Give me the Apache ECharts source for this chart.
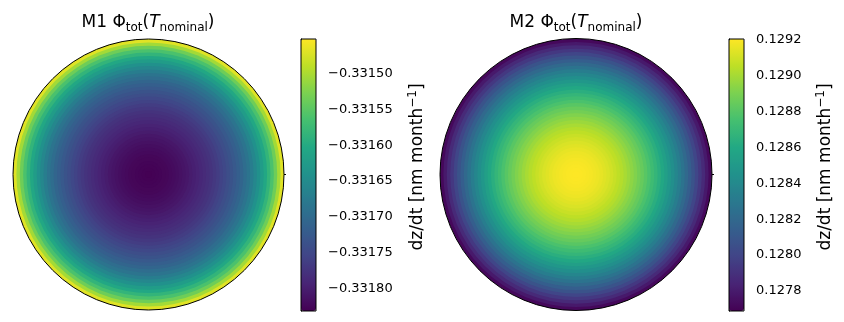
<!DOCTYPE html>
<html>
<head>
<meta charset="utf-8">
<script src="https://cdn.jsdelivr.net/npm/echarts@6/dist/echarts.min.js"></script>
<style>
  html, body { margin: 0; background: #fff; }
  #chart { width: 844px; height: 322px; }
</style>
</head>
<body>
<div id="chart"></div>
<script>
// outer edge of each ring, as a fraction of the disc radius
const ringOuter = [0.025, 0.05, 0.075, 0.1, 0.125, 0.15, 0.175, 0.2, 0.225, 0.25,
  0.275, 0.3, 0.325, 0.35, 0.375, 0.4, 0.425, 0.45, 0.475, 0.5,
  0.525, 0.55, 0.575, 0.6, 0.625, 0.65, 0.675, 0.7, 0.725, 0.75,
  0.775, 0.8, 0.825, 0.85, 0.875, 0.9, 0.925, 0.95, 0.975, 1.0]

// dz/dt [nm/month] read along the radius, centre -> rim
const m1Values = [-0.331832, -0.331831, -0.331830, -0.331829, -0.331827, -0.331826, -0.331823,
  -0.331821, -0.331818, -0.331815, -0.331811, -0.331808, -0.331803, -0.331799, -0.331795,
  -0.331790, -0.331786, -0.331781, -0.331776, -0.331770, -0.331764, -0.331757, -0.331750,
  -0.331742, -0.331734, -0.331726, -0.331717, -0.331708, -0.331697, -0.331685, -0.331672,
  -0.331657, -0.331642, -0.331624, -0.331605, -0.331584, -0.331561, -0.331536, -0.331504,
  -0.331468]
const m2Values = [0.129206, 0.129203, 0.129200, 0.129194, 0.129186, 0.129177, 0.129167,
  0.129153, 0.129138, 0.129121, 0.129101, 0.129080, 0.129057, 0.129033, 0.129006, 0.128977,
  0.128946, 0.128915, 0.128881, 0.128845, 0.128807, 0.128767, 0.128726, 0.128682, 0.128637,
  0.128590, 0.128540, 0.128488, 0.128435, 0.128380, 0.128323, 0.128263, 0.128203, 0.128139,
  0.128074, 0.128005, 0.127937, 0.127866, 0.127793, 0.127718]

// colorbar limits and ticks
const m1Range = [-0.331832, -0.331451]
const m2Range = [0.127688, 0.129206]
const m1Ticks = [-0.33180, -0.33175, -0.33170, -0.33165, -0.33160, -0.33155, -0.33150]
const m2Ticks = [0.1278, 0.1280, 0.1282, 0.1284, 0.1286, 0.1288, 0.1290, 0.1292]

const viridis = ['#440154', '#482475', '#414487', '#355f8d', '#2a788e', '#21918c',
  '#22a884', '#44bf70', '#7ad151', '#bddf26', '#fde725']

const FONT = 'DejaVu Sans'
const minus = s => s.replace('-', '\u2212')

const titleRich = {
  a: { fontFamily: FONT, fontSize: 17, fontWeight: 'normal', lineHeight: 22, color: '#000' },
  i: { fontFamily: FONT, fontSize: 17, fontWeight: 'normal', lineHeight: 22, color: '#000', fontStyle: 'italic' },
  s: { fontFamily: FONT, fontSize: 12, fontWeight: 'normal', lineHeight: 8, verticalAlign: 'bottom', color: '#000' }
}
const labelRich = {
  a: { fontFamily: FONT, fontSize: 17, lineHeight: 22, color: '#000' },
  p: { fontFamily: FONT, fontSize: 12, lineHeight: 8, verticalAlign: 'top', color: '#000' }
}

function polarAxes (idx) {
  return {
    angle: {
      polarIndex: idx,
      type: 'category',
      data: ['disc'],
      startAngle: 0,
      z: 100,
      axisLine: { show: true, lineStyle: { color: '#000', width: 1 } },
      axisTick: { show: true, length: 2, lineStyle: { color: '#000' } },
      axisLabel: { show: false },
      splitLine: { show: false },
      splitArea: { show: false }
    },
    radius: {
      polarIndex: idx,
      type: 'value',
      min: 0,
      max: 1,
      show: false,
      splitLine: { show: false }
    }
  }
}

function cbarAxes (idx, range, ticks, digits) {
  return {
    x: { gridIndex: idx, type: 'value', show: false, min: 0, max: 1 },
    y: {
      gridIndex: idx,
      type: 'value',
      position: 'right',
      min: range[0],
      max: range[1],
      axisLine: { show: true, lineStyle: { color: '#000' } },
      axisTick: { show: true, customValues: ticks, length: 5, lineStyle: { color: '#000' } },
      axisLabel: {
        show: true,
        customValues: ticks,
        margin: 12,
        fontFamily: FONT,
        fontSize: 13,
        color: '#000',
        formatter: v => minus(v.toFixed(digits))
      },
      splitLine: { show: false }
    }
  }
}

// one filled disc per ring, all overlapping (barGap -100%);
// smaller discs get a higher z so they sit on top and no seams show
function discSeries (idx, values) {
  return values.map((v, k) => ({
    type: 'bar',
    coordinateSystem: 'polar',
    polarIndex: idx,
    barGap: '-100%',
    barCategoryGap: '0%',
    silent: true,
    z: 10 + values.length - k,
    encode: { angle: 0, radius: 1 },
    data: [['disc', ringOuter[k], v]]
  }))
}

const p1 = polarAxes(0)
const p2 = polarAxes(1)
const c1 = cbarAxes(0, m1Range, m1Ticks, 5)
const c2 = cbarAxes(1, m2Range, m2Ticks, 4)
const s1 = discSeries(0, m1Values)
const s2 = discSeries(1, m2Values)
const idx1 = s1.map((_, i) => i)
const idx2 = s2.map((_, i) => i + s1.length)

const chart = echarts.init(document.getElementById('chart'))
chart.setOption({
  animation: false,
  title: [
    {
      text: '{a|M1 Φ}{s|tot}{a|(}{i|T}{s|nominal}{a|)}',
      left: 148,
      top: 12,
      padding: 0,
      textAlign: 'center',
      textStyle: { fontWeight: 'normal', rich: titleRich }
    },
    {
      text: '{a|M2 Φ}{s|tot}{a|(}{i|T}{s|nominal}{a|)}',
      left: 576,
      top: 12,
      padding: 0,
      textAlign: 'center',
      textStyle: { fontWeight: 'normal', rich: titleRich }
    }
  ],
  polar: [
    { center: [148.5, 174.5], radius: 135.5 },
    { center: [576, 174.5], radius: 136 }
  ],
  angleAxis: [p1.angle, p2.angle],
  radiusAxis: [p1.radius, p2.radius],
  grid: [
    { left: 301, top: 39, width: 15, height: 272, show: true, borderColor: '#000', borderWidth: 1, backgroundColor: 'transparent', z: 10 },
    { left: 729, top: 39, width: 15, height: 272, show: true, borderColor: '#000', borderWidth: 1, backgroundColor: 'transparent', z: 10 }
  ],
  xAxis: [c1.x, c2.x],
  yAxis: [c1.y, c2.y],
  visualMap: [
    {
      type: 'continuous',
      seriesIndex: idx1,
      dimension: 2,
      min: m1Range[0],
      max: m1Range[1],
      inRange: { color: viridis },
      left: 301,
      top: 39,
      itemWidth: 15,
      itemHeight: 272,
      padding: 0,
      calculable: false,
      hoverLink: false
    },
    {
      type: 'continuous',
      seriesIndex: idx2,
      dimension: 2,
      min: m2Range[0],
      max: m2Range[1],
      inRange: { color: viridis },
      left: 729,
      top: 39,
      itemWidth: 15,
      itemHeight: 272,
      padding: 0,
      calculable: false,
      hoverLink: false
    }
  ],
  graphic: [
    {
      type: 'text',
      x: 418,
      y: 167,
      rotation: Math.PI / 2,
      style: { text: '{a|dz/dt [nm month}{p|\u22121}{a|]}', rich: labelRich, align: 'center', verticalAlign: 'middle', textAlign: 'center', textVerticalAlign: 'middle' }
    },
    {
      type: 'text',
      x: 826,
      y: 167,
      rotation: Math.PI / 2,
      style: { text: '{a|dz/dt [nm month}{p|\u22121}{a|]}', rich: labelRich, align: 'center', verticalAlign: 'middle', textAlign: 'center', textVerticalAlign: 'middle' }
    }
  ],
  series: s1.concat(s2)
})
</script>
</body>
</html>
